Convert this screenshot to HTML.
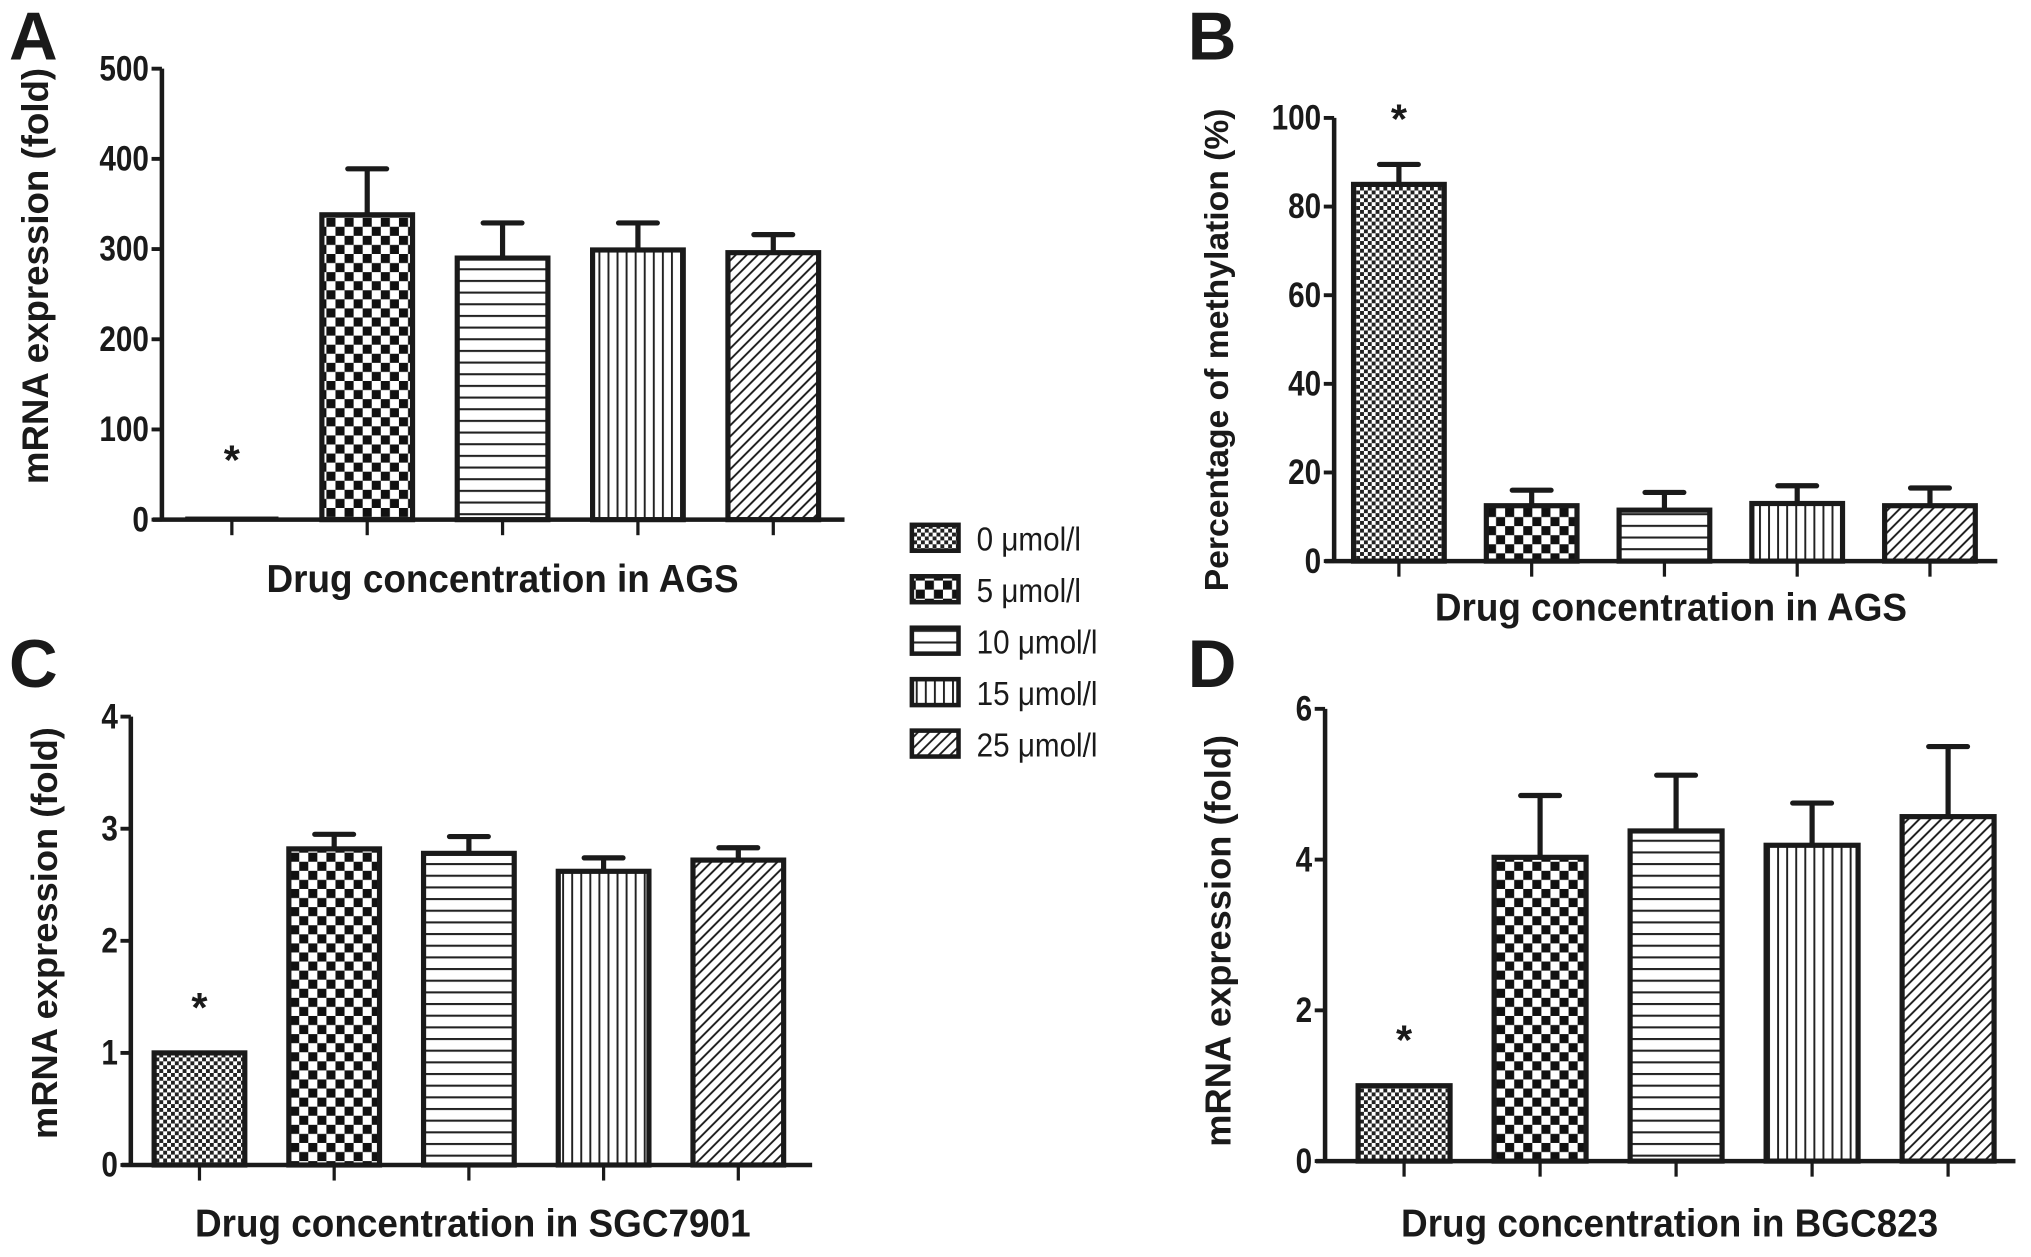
<!DOCTYPE html>
<html><head><meta charset="utf-8"><style>
html,body{margin:0;padding:0;background:#fff}
svg{display:block}
text{font-family:"Liberation Sans Narrow","Liberation Sans",sans-serif;font-weight:bold;fill:#1a1a1a}
.t{font-family:"Liberation Sans",sans-serif}
</style></head><body>
<svg id="chart" width="2031" height="1257" viewBox="0 0 1568 970" preserveAspectRatio="none" xmlns="http://www.w3.org/2000/svg">
<defs>
<pattern id="p0" patternUnits="userSpaceOnUse" width="6" height="6"><rect width="6" height="6" fill="#fff"/><rect width="3" height="3" fill="#222"/><rect x="3" y="3" width="3" height="3" fill="#222"/></pattern>
<pattern id="p1" patternUnits="userSpaceOnUse" width="14" height="14"><rect width="14" height="14" fill="#fff"/><rect width="7" height="7" fill="#111"/><rect x="7" y="7" width="7" height="7" fill="#111"/></pattern>
<pattern id="p2" patternUnits="userSpaceOnUse" width="10" height="9"><rect width="10" height="9" fill="#fff"/><rect y="0" width="10" height="1.6" fill="#222"/></pattern>
<pattern id="p3" patternUnits="userSpaceOnUse" width="7" height="10"><rect width="7" height="10" fill="#fff"/><rect x="0" width="1.5" height="10" fill="#222"/></pattern>
<pattern id="p4" patternUnits="userSpaceOnUse" width="6" height="6" patternTransform="rotate(45)"><rect width="6" height="6" fill="#fff"/><rect width="1.5" height="6" fill="#222"/></pattern>
</defs>
</svg>
<script>
const categories = ["0 μmol/l","5 μmol/l","10 μmol/l","15 μmol/l","25 μmol/l"];
const valuesA = [2, 338, 290, 299, 296];
const errorsA = [null, 389, 329, 329, 316];
const ticksA = [0,100,200,300,400,500];
const valuesB = [85, 12.5, 11.5, 13, 12.5];
const errorsB = [89.5, 16, 15.5, 17, 16.5];
const ticksB = [0,20,40,60,80,100];
const valuesC = [1.0, 2.82, 2.78, 2.62, 2.72];
const errorsC = [null, 2.95, 2.93, 2.74, 2.83];
const ticksC = [0,1,2,3,4];
const valuesD = [1.0, 4.03, 4.38, 4.19, 4.57];
const errorsD = [null, 4.85, 5.12, 4.75, 5.5];
const ticksD = [0,2,4,6];

const NS="http://www.w3.org/2000/svg";
const svg=document.getElementById('chart');
function mk(tag,attrs,parent){const e=document.createElementNS(NS,tag);for(const k in attrs)e.setAttribute(k,attrs[k]);(parent||svg).appendChild(e);return e;}

const panels=[
 {id:'a',letter:'A',lx:7,ly:46,ax:125,x1:652,y0:401,ytop:53,max:500,c0:179,step:104.5,bw:70,vals:valuesA,errs:errorsA,ticks:ticksA,xt:'Drug concentration in AGS',xtx:388,xty:457,yt:'mRNA expression (fold)',yfs:28.3,ytx:37,yty:213},
 {id:'b',letter:'B',lx:917,ly:46,ax:1030,x1:1542,y0:433,ytop:91,max:100,c0:1080,step:102.5,bw:70,vals:valuesB,errs:errorsB,ticks:ticksB,xt:'Drug concentration in AGS',xtx:1290,xty:479,yt:'Percentage of methylation (%)',yfs:26,ytx:948,yty:270},
 {id:'c',letter:'C',lx:7,ly:530,ax:101,x1:627,y0:899,ytop:553,max:4,c0:154,step:104,bw:70,vals:valuesC,errs:errorsC,ticks:ticksC,xt:'Drug concentration in SGC7901',xtx:365,xty:954,yt:'mRNA expression (fold)',yfs:28,ytx:44,yty:720},
 {id:'d',letter:'D',lx:917,ly:530,ax:1023,x1:1556,y0:896,ytop:547,max:6,c0:1084,step:105,bw:71,vals:valuesD,errs:errorsD,ticks:ticksD,xt:'Drug concentration in BGC823',xtx:1289,xty:954,yt:'mRNA expression (fold)',yfs:28,ytx:950,yty:726}
];

panels.forEach(p=>{
 const g=mk('g',{});
 
 
 const y=v=>p.y0-(v/p.max)*(p.y0-p.ytop);
 const L=mk('text',{x:p.lx,y:p.ly,'font-size':52,class:'t'},g);L.textContent=p.letter;
 
 
 p.vals.forEach((v,i)=>{
  const cx=p.c0+i*p.step;
  if(p.errs[i]!=null){
   const e=mk('path',{d:`M${cx} ${y(v)} V${y(p.errs[i])} M${cx-15} ${y(p.errs[i])} H${cx+15}`,stroke:'#1a1a1a','stroke-width':4,'stroke-linecap':'round',fill:'none'},g);
   
   
  }
  const h=Math.max(p.y0-y(v),0.5);
  const r=mk('rect',{x:cx-p.bw/2,y:y(v),width:p.bw,height:h,fill:'url(#p'+i+')',stroke:'#1a1a1a','stroke-width':h<4?2:4},g);
  
  
  const t=mk('line',{x1:cx,x2:cx,y1:p.y0,y2:p.y0+12,stroke:'#1a1a1a','stroke-width':2.5},g);
  
  
  if(i===0){
   const s=mk('text',{x:cx,y:y(p.errs[0]!=null?p.errs[0]:v)-(p.id==='a'?34:24),'text-anchor':'middle','font-size':32,class:'t'},g);
   s.textContent='*';
   if(p.id==='a')s.setAttribute('y',366);
   
   
  }
 });
 const ax=mk('path',{d:`M${p.ax} ${p.ytop} V${p.y0} M${p.ax-7} ${p.y0} H${p.x1}`,stroke:'#1a1a1a','stroke-width':3.5,fill:'none'},g);
 
 
 p.ticks.forEach(tv=>{
  const yy=y(tv);
  const tk=mk('line',{x1:p.ax-8,x2:p.ax,y1:yy,y2:yy,stroke:'#1a1a1a','stroke-width':3},g);
  
  
  const tl=mk('text',{x:0,y:0,'text-anchor':'end','font-size':27,transform:`translate(${p.ax-10},${yy+9}) scale(0.85,1)`},g);
  tl.textContent=tv;
  
  
 });
 const xt=mk('text',{x:0,y:0,'text-anchor':'middle','font-size':30,transform:`translate(${p.xtx},${p.xty}) scale(0.95,1)`},g);
 xt.textContent=p.xt;
 
 
 const yt=mk('text',{x:0,y:0,'text-anchor':'middle','font-size':p.yfs,class:'t',transform:`translate(${p.ytx},${p.yty}) rotate(-90)`},g);
 yt.textContent=p.yt;
 
 
});

const lg=mk('g',{});


categories.forEach((c,i)=>{
 const yy=405+i*39.7;
 const r=mk('rect',{x:704,y:yy,width:36,height:20,fill:'url(#p'+i+')',stroke:'#1a1a1a','stroke-width':3.5},lg);
 
 
 const t=mk('text',{x:0,y:0,'font-size':26,style:'font-weight:normal',transform:`translate(754,${yy+20}) scale(0.88,1)`},lg);
 t.textContent=c;
 
 
});
</script>
</body></html>
